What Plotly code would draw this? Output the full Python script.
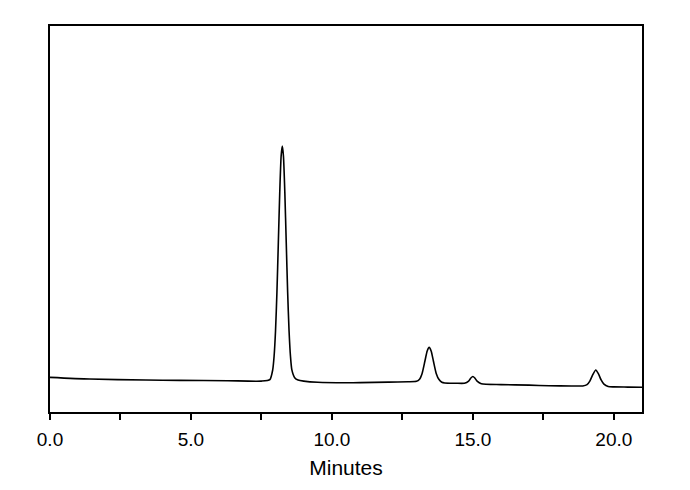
import plotly.graph_objects as go

# Retention time (minutes) and detector signal (arbitrary units)
time_min = [0.0, 1.4, 3.4, 4.6, 6.3, 7.5, 7.80, 7.90, 7.95, 8.00, 8.05, 8.10, 8.15, 8.20, 8.24,
            8.28, 8.33, 8.38, 8.43, 8.48, 8.53, 8.58, 8.68, 8.80, 9.0, 9.5, 10.5, 11.0, 12.0,
            12.7, 13.0, 13.1, 13.2, 13.3, 13.38, 13.45, 13.52, 13.6, 13.7, 13.8, 13.9, 14.0,
            14.4, 14.7, 14.85, 14.93, 15.0, 15.07, 15.15, 15.3, 16.0, 17.0, 17.7, 18.5, 18.9,
            19.05, 19.15, 19.25, 19.36, 19.46, 19.55, 19.65, 19.8, 20.0, 20.5, 21.0]
signal = [8.98, 8.54, 8.28, 8.20, 8.10, 8.00, 8.4, 10.9, 14.5, 21.0, 31.0, 43.9, 56.9, 66.4, 68.9,
          66.4, 56.9, 43.9, 31.0, 21.0, 14.5, 10.9, 8.9, 8.28, 8.0, 7.7, 7.58, 7.6, 7.75,
          7.84, 7.95, 8.4, 10.0, 13.2, 15.8, 16.75, 15.8, 13.2, 10.0, 8.4, 7.7, 7.5,
          7.45, 7.45, 8.0, 8.8, 9.2, 8.8, 8.0, 7.3, 7.1, 6.95, 6.8, 6.75, 6.75,
          7.1, 8.0, 9.6, 10.87, 9.8, 8.3, 7.2, 6.6, 6.5, 6.45, 6.4]

tick_vals = [0.0, 2.5, 5.0, 7.5, 10.0, 12.5, 15.0, 17.5, 20.0]
tick_text = ["0.0", "", "5.0", "", "10.0", "", "15.0", "", "20.0"]

fig = go.Figure()
fig.add_trace(go.Scatter(x=time_min, y=signal, mode="lines",
                         line=dict(color="black", width=1.6, shape="spline", smoothing=0.6),
                         showlegend=False, hoverinfo="x+y"))

fig.update_layout(
    width=690, height=490,
    margin=dict(l=42, r=56, t=18, b=86),
    paper_bgcolor="white", plot_bgcolor="white",
    font=dict(family="Liberation Sans, Arial, sans-serif", color="black"),
    xaxis=dict(range=[0, 21], tickvals=tick_vals, ticktext=tick_text,
               ticks="outside", ticklen=6, tickwidth=1.5, tickcolor="black",
               showline=True, linecolor="black", linewidth=2, mirror=True,
               showgrid=False, zeroline=False, tickfont=dict(size=19),
               ticklabelstandoff=3,
               title=dict(text="Minutes", font=dict(size=21), standoff=12)),
    yaxis=dict(range=[0, 100], showticklabels=False, ticks="",
               showline=True, linecolor="black", linewidth=2, mirror=True,
               showgrid=False, zeroline=False),
)

fig.write_html("out.html")
